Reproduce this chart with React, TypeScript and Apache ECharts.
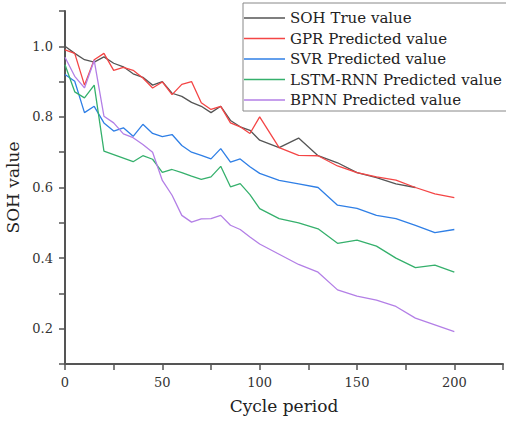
import React, { useEffect, useRef } from "react";
import * as echarts from "echarts";

const cycles = [0, 5, 10, 15, 20, 25, 30, 35, 40, 45, 50, 55, 60, 65, 70, 75, 80, 85, 90, 95, 100, 110, 120, 130, 140, 150, 160, 170, 180, 190, 200];

const sohTrue = [1.0, 0.98, 0.962, 0.955, 0.97, 0.952, 0.942, 0.922, 0.912, 0.89, 0.9, 0.867, 0.858, 0.841, 0.83, 0.812, 0.83, 0.79, 0.772, 0.762, 0.734, 0.713, 0.74, 0.69, 0.67, 0.642, 0.628, 0.61, 0.6];
const gpr = [0.99, 0.98, 0.89, 0.962, 0.98, 0.932, 0.94, 0.932, 0.91, 0.882, 0.899, 0.863, 0.892, 0.9, 0.84, 0.821, 0.83, 0.783, 0.772, 0.753, 0.8, 0.713, 0.691, 0.69, 0.661, 0.642, 0.63, 0.621, 0.6, 0.582, 0.571];
const svr = [0.92, 0.901, 0.812, 0.83, 0.783, 0.76, 0.769, 0.745, 0.779, 0.753, 0.744, 0.75, 0.719, 0.7, 0.691, 0.681, 0.71, 0.672, 0.681, 0.659, 0.64, 0.62, 0.61, 0.6, 0.55, 0.541, 0.521, 0.512, 0.493, 0.472, 0.481];
const lstm = [0.948, 0.871, 0.854, 0.89, 0.703, 0.693, 0.683, 0.673, 0.69, 0.68, 0.643, 0.651, 0.642, 0.632, 0.623, 0.63, 0.66, 0.602, 0.611, 0.58, 0.54, 0.512, 0.5, 0.483, 0.442, 0.451, 0.434, 0.4, 0.373, 0.38, 0.36];
const bpnn = [0.969, 0.915, 0.882, 0.96, 0.802, 0.783, 0.752, 0.741, 0.722, 0.7, 0.62, 0.578, 0.521, 0.502, 0.511, 0.512, 0.521, 0.493, 0.481, 0.46, 0.44, 0.411, 0.382, 0.36, 0.31, 0.292, 0.281, 0.263, 0.23, 0.211, 0.192];

const seriesNames = ["SOH True value", "GPR Predicted value", "SVR Predicted value", "LSTM-RNN Predicted value", "BPNN Predicted value"];
const seriesValues = [sohTrue, gpr, svr, lstm, bpnn];
const seriesColors = ["#555555", "#f44545", "#2f7fe6", "#35b06c", "#b37fe6"];

const FONT = "'DejaVu Serif', serif";

export default function App() {
  const ref = useRef<HTMLDivElement>(null);
  useEffect(() => {
    if (!ref.current) return;
    const chart = echarts.init(ref.current, undefined, { renderer: "svg" });
    const axisColor = "#555555";
    chart.setOption({
      animation: false,
      backgroundColor: "#ffffff",
      grid: { left: 65, right: 3, top: 11, bottom: 57, containLabel: false, outerBoundsMode: "none" },
      legend: {
        orient: "vertical",
        left: 243,
        top: 3,
        padding: [6, 12, 2, 1],
        itemWidth: 41,
        itemHeight: 1.6,
        itemGap: 2.5,
        icon: "rect",
        borderColor: "#888888",
        borderWidth: 1,
        backgroundColor: "#ffffff",
        textStyle: { fontFamily: FONT, fontSize: 15, color: "#222222", lineHeight: 18 },
        data: seriesNames,
      },
      xAxis: {
        type: "value",
        min: 0,
        max: 225,
        interval: 25,
        name: "Cycle period",
        nameLocation: "middle",
        nameGap: 33,
        nameTextStyle: { fontFamily: FONT, fontSize: 17, color: "#222222" },
        axisLine: { lineStyle: { color: axisColor, width: 2 } },
        axisTick: { show: true, length: 6, lineStyle: { color: axisColor, width: 1.5 } },
        axisLabel: {
          fontFamily: FONT,
          fontSize: 13,
          color: "#333333",
          margin: 12,
          formatter: (v: number) => (v % 50 === 0 && v <= 200 ? String(v) : ""),
        },
        splitLine: { show: false },
      },
      yAxis: {
        type: "value",
        min: 0.1,
        max: 1.1,
        interval: 0.1,
        name: "SOH value",
        nameLocation: "middle",
        nameGap: 30,
        nameTextStyle: { fontFamily: FONT, fontSize: 17, color: "#222222" },
        axisLine: { show: true, lineStyle: { color: axisColor, width: 2 } },
        axisTick: { show: true, length: 6, lineStyle: { color: axisColor, width: 1.5 } },
        axisLabel: {
          fontFamily: FONT,
          fontSize: 13,
          color: "#333333",
          margin: 12,
          formatter: (v: number) => {
            const r = Math.round(v * 10);
            return r % 2 === 0 && r >= 2 && r <= 10 ? (r / 10).toFixed(1) : "";
          },
        },
        splitLine: { show: false },
      },
      series: seriesNames.map((name, i) => ({
        name,
        type: "line",
        data: seriesValues[i].map((v, j) => [cycles[j], v]),
        symbol: "none",
        showSymbol: false,
        lineStyle: { color: seriesColors[i], width: 1.3 },
        itemStyle: { color: seriesColors[i] },
        z: i === 0 ? 1 : 2,
      })),
    });
    return () => chart.dispose();
  }, []);
  return <div ref={ref} style={{ width: 506, height: 421, position: "absolute", left: 0, top: 0 }} />;
}
